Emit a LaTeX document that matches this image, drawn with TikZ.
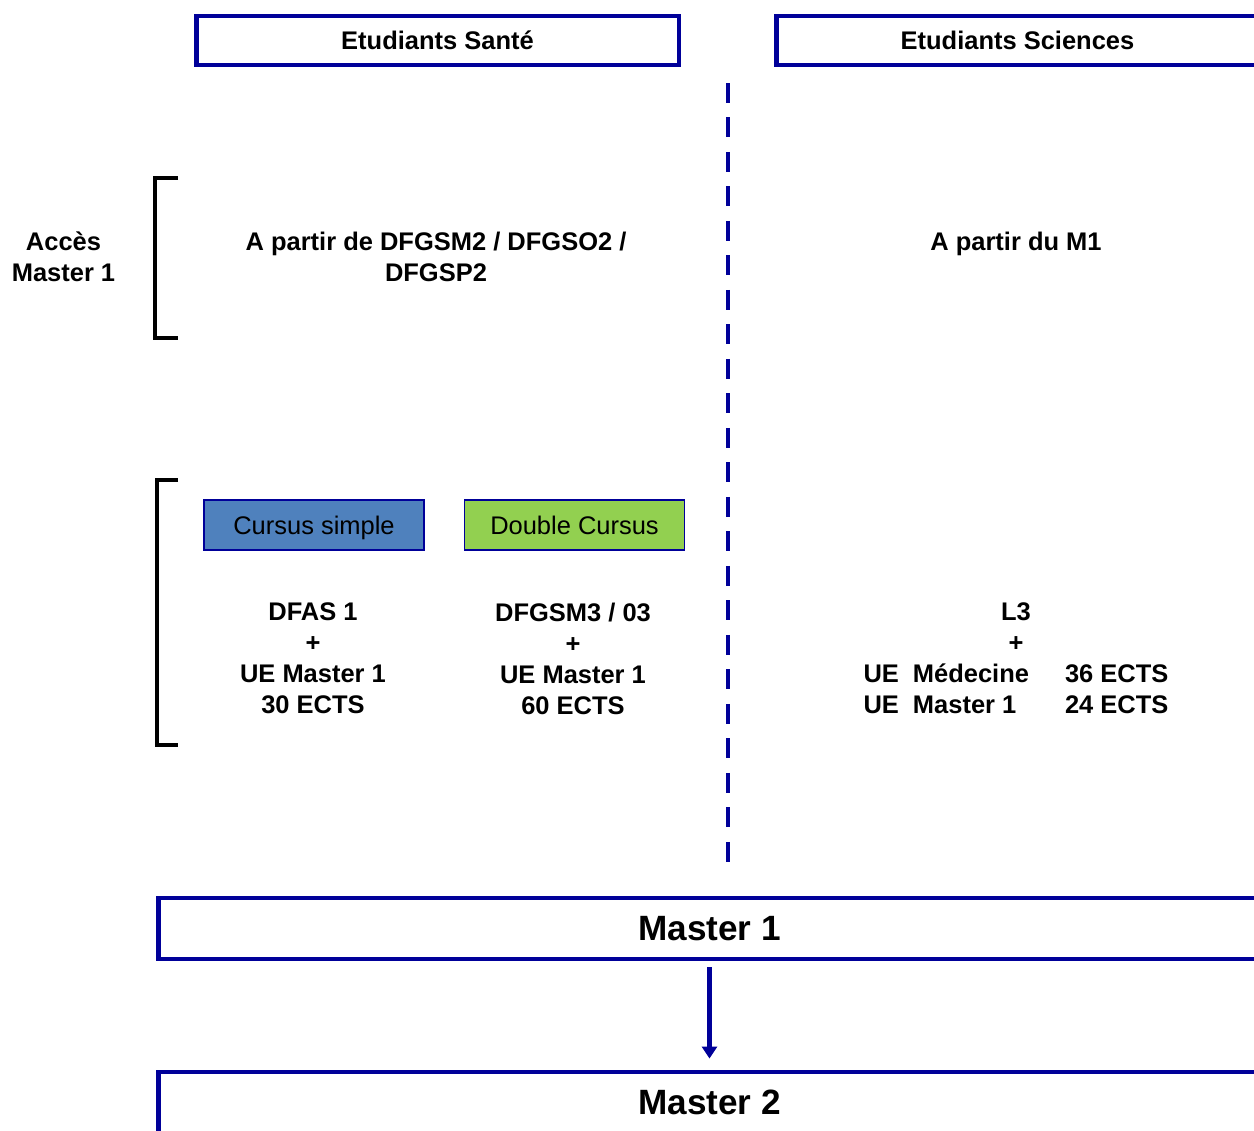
\documentclass[tikz,border=0pt]{standalone}
\usepackage{fontspec}
\setmainfont{Liberation Sans}
\usepackage{xcolor}
\usetikzlibrary{arrows.meta}
\definecolor{navy}{RGB}{0,0,153}
\definecolor{cblue}{RGB}{79,129,189}
\definecolor{cgreen}{RGB}{146,208,80}

\begin{document}
\begin{tikzpicture}[x=0.02cm, y=-0.02cm,
  titlebox/.style={draw=navy, line width=2.8pt, minimum width=9.66cm, minimum height=0.98cm,
    text height=10.4pt, text depth=0pt, font=\fontsize{14.5}{17.6}\selectfont\bfseries},
  levelbox/.style={draw=navy, line width=2.8pt, minimum width=22.06cm, minimum height=1.22cm,
    font=\fontsize{20}{24}\selectfont\bfseries},
  cursusbox/.style={draw=navy, line width=1.1pt, minimum width=4.4cm, minimum height=1cm,
    text height=10.4pt, text depth=0pt, font=\fontsize{14.5}{17.6}\selectfont},
  txt/.style={align=center, font=\fontsize{14.5}{17.6}\selectfont\bfseries}]
\useasboundingbox (0,0) rectangle (1254,1130);
% the two columns
\node[titlebox] (sante) at (437.5,40.5) {Etudiants Santé};
\node[titlebox] (sciences) at (1017.5,40.5) {Etudiants Sciences};
% dashed separator
\coordinate (divtop) at (728,83);
\coordinate (divbot) at (728,865);
\draw[navy, line width=2.8pt, dash pattern=on 0.4cm off 0.29cm] (divtop) -- (divbot);
% brackets
\draw[line width=2pt] (178,178) -- (155,178) -- (155,338) -- (178,338);
\draw[line width=2pt] (178,480) -- (157,480) -- (157,745) -- (178,745);
% access to Master 1
\node[txt] (acces) at (63.5,256.5) {Accès\\Master 1};
\node[txt] (santeacc) at (436,256.5) {A partir de DFGSM2 / DFGSO2 /\\DFGSP2};
\node[txt] (sciacc) at (1016,243.7) {A partir du M1};
% cursus
\node[cursusbox, fill=cblue] (simple) at (314,525) {Cursus simple};
\node[cursusbox, fill=cgreen] (double) at (574.5,525) {Double Cursus};
\node[txt] (dfas) at (313,658.5) {DFAS 1\\+\\UE Master 1\\30 ECTS};
\node[txt] (dfgsm) at (573,658.5) {DFGSM3 / 03\\+\\UE Master 1\\60 ECTS};
\node[txt] (l3) at (1016,627.5) {L3\\+};
\node[txt] (uesci) at (1016,692) {%
  \begin{tabular}{@{}l@{\hspace{0.28cm}}l@{\hspace{0.72cm}}l@{}}
  UE & Médecine & 36 ECTS\\
  UE & Master 1 & 24 ECTS
  \end{tabular}};
% Master 1 -> Master 2
\node[levelbox] (m1) at (709.5,928.5) {Master 1};
\node[levelbox] (m2) at (709.5,1102.5) {Master 2};
\draw[navy, line width=2.4pt, -{Triangle[width=0.3cm, length=0.24cm]},
  shorten <=0.12cm, shorten >=0.22cm] (m1.south) -- (m2.north);
\end{tikzpicture}
\end{document}
